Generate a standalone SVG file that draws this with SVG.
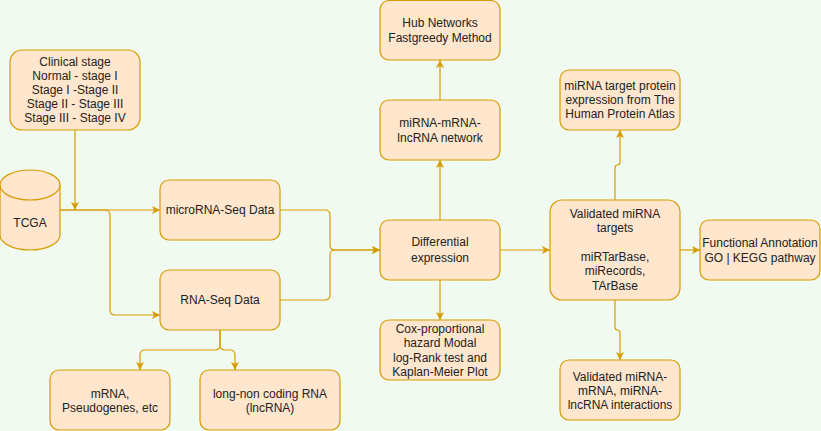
<svg xmlns="http://www.w3.org/2000/svg" width="821" height="431" viewBox="0 0 821 431">
<style>
.n{fill:#FFE6CC;stroke:#D79B00;stroke-width:1.2}
.t{font-family:"Liberation Sans",Arial,sans-serif;font-size:12px;fill:#222;text-anchor:middle}
.e{fill:none;stroke:#D79B00;stroke-width:1.2}
</style>
<defs>
<marker id="a" viewBox="0 0 8 8" refX="8" refY="4" markerWidth="8" markerHeight="8" markerUnits="userSpaceOnUse" orient="auto">
<path d="M0,0 L8,4 L0,8 L2,4 Z" fill="#D79B00"/>
</marker>
</defs>
<rect width="821" height="431" fill="#F1FAF0"/>
<g id="connectors">
<path class="e" marker-end="url(#a)" d="M75,130 V210"/>
<path class="e" marker-end="url(#a)" d="M60,210 H160"/>
<path class="e" marker-end="url(#a)" d="M60,210 H105 Q110,210 110,215 V310 Q110,315 115,315 H160"/>
<path class="e" marker-end="url(#a)" d="M280,210 H325 Q330,210 330,215 V245 Q330,250 335,250 H380"/>
<path class="e" marker-end="url(#a)" d="M280,300 H325 Q330,300 330,295 V255 Q330,250 335,250 H380"/>
<path class="e" marker-end="url(#a)" d="M440,220 V160"/>
<path class="e" marker-end="url(#a)" d="M440,100 V60"/>
<path class="e" marker-end="url(#a)" d="M440,280 V320"/>
<path class="e" marker-end="url(#a)" d="M500,250 H550"/>
<path class="e" marker-end="url(#a)" d="M680,250 H700"/>
<path class="e" marker-end="url(#a)" d="M615,200 V168 Q615,165 617.5,165 Q620,165 620,162 V130"/>
<path class="e" marker-end="url(#a)" d="M615,300 V327 Q615,330 617.5,330 Q620,330 620,333 V360"/>
<path class="e" marker-end="url(#a)" d="M220,330 V345 Q220,350 215,350 H145 Q140,350 140,355 V370"/>
<path class="e" marker-end="url(#a)" d="M220,330 V345 Q220,350 225,350 H230 Q235,350 235,355 V370"/>
</g>
<g id="clinical">
<rect class="n" x="10" y="50" width="130" height="80" rx="12"/>
<text class="t"><tspan x="75" y="66">Clinical stage</tspan><tspan x="75" y="80">Normal - stage I</tspan><tspan x="75" y="94">Stage I -Stage II</tspan><tspan x="75" y="108">Stage II - Stage III</tspan><tspan x="75" y="122">Stage III - Stage IV</tspan></text>
</g>
<g id="tcga">
<path class="n" d="M0,185 A30,15 0 0 1 60,185 V235 A30,15 0 0 1 0,235 Z"/>
<path class="e" d="M0,185 A30,15 0 0 0 60,185"/>
<text class="t" x="30" y="227">TCGA</text>
</g>
<g id="microrna">
<rect class="n" x="160" y="180" width="120" height="60" rx="9"/>
<text class="t" x="220" y="214">microRNA-Seq Data</text>
</g>
<g id="rnaseq">
<rect class="n" x="160" y="270" width="120" height="60" rx="9"/>
<text class="t" x="220" y="304">RNA-Seq Data</text>
</g>
<g id="mrna">
<rect class="n" x="50" y="370" width="120" height="60" rx="9"/>
<text class="t"><tspan x="110" y="398">mRNA,</tspan><tspan x="110" y="412">Pseudogenes, etc</tspan></text>
</g>
<g id="lncrna">
<rect class="n" x="200" y="370" width="140" height="60" rx="9"/>
<text class="t"><tspan x="270" y="398">long-non coding RNA</tspan><tspan x="270" y="412">(lncRNA)</tspan></text>
</g>
<g id="diff">
<rect class="n" x="380" y="220" width="120" height="60" rx="9"/>
<text class="t"><tspan x="440" y="246">Differential</tspan><tspan x="440" y="262">expression</tspan></text>
</g>
<g id="network">
<rect class="n" x="380" y="100" width="120" height="60" rx="9"/>
<text class="t"><tspan x="440" y="127">miRNA-mRNA-</tspan><tspan x="440" y="142">lncRNA network</tspan></text>
</g>
<g id="hub">
<rect class="n" x="380" y="0.5" width="120" height="59.5" rx="9"/>
<text class="t"><tspan x="440" y="27">Hub Networks</tspan><tspan x="440" y="42">Fastgreedy Method</tspan></text>
</g>
<g id="cox">
<rect class="n" x="380" y="320" width="120" height="60" rx="9"/>
<text class="t"><tspan x="440" y="333">Cox-proportional</tspan><tspan x="440" y="347">hazard Modal</tspan><tspan x="440" y="362">log-Rank test and</tspan><tspan x="440" y="376">Kaplan-Meier Plot</tspan></text>
</g>
<g id="validated">
<rect class="n" x="550" y="200" width="130" height="100" rx="12"/>
<text class="t"><tspan x="615" y="218">Validated miRNA</tspan><tspan x="615" y="232">targets</tspan><tspan x="615" y="261">miRTarBase,</tspan><tspan x="615" y="275">miRecords,</tspan><tspan x="615" y="290">TArBase</tspan></text>
</g>
<g id="functional">
<rect class="n" x="700" y="220" width="120" height="60" rx="9"/>
<text class="t"><tspan x="760" y="247">Functional Annotation</tspan><tspan x="760" y="262">GO | KEGG pathway</tspan></text>
</g>
<g id="protein">
<rect class="n" x="560" y="70" width="120" height="60" rx="9"/>
<text class="t"><tspan x="620" y="90">miRNA target protein</tspan><tspan x="620" y="104">expression from The</tspan><tspan x="620" y="118">Human Protein Atlas</tspan></text>
</g>
<g id="interactions">
<rect class="n" x="560" y="360" width="120" height="60" rx="9"/>
<text class="t"><tspan x="620" y="381">Validated miRNA-</tspan><tspan x="620" y="395">mRNA, miRNA-</tspan><tspan x="620" y="409">lncRNA interactions</tspan></text>
</g>
</svg>
